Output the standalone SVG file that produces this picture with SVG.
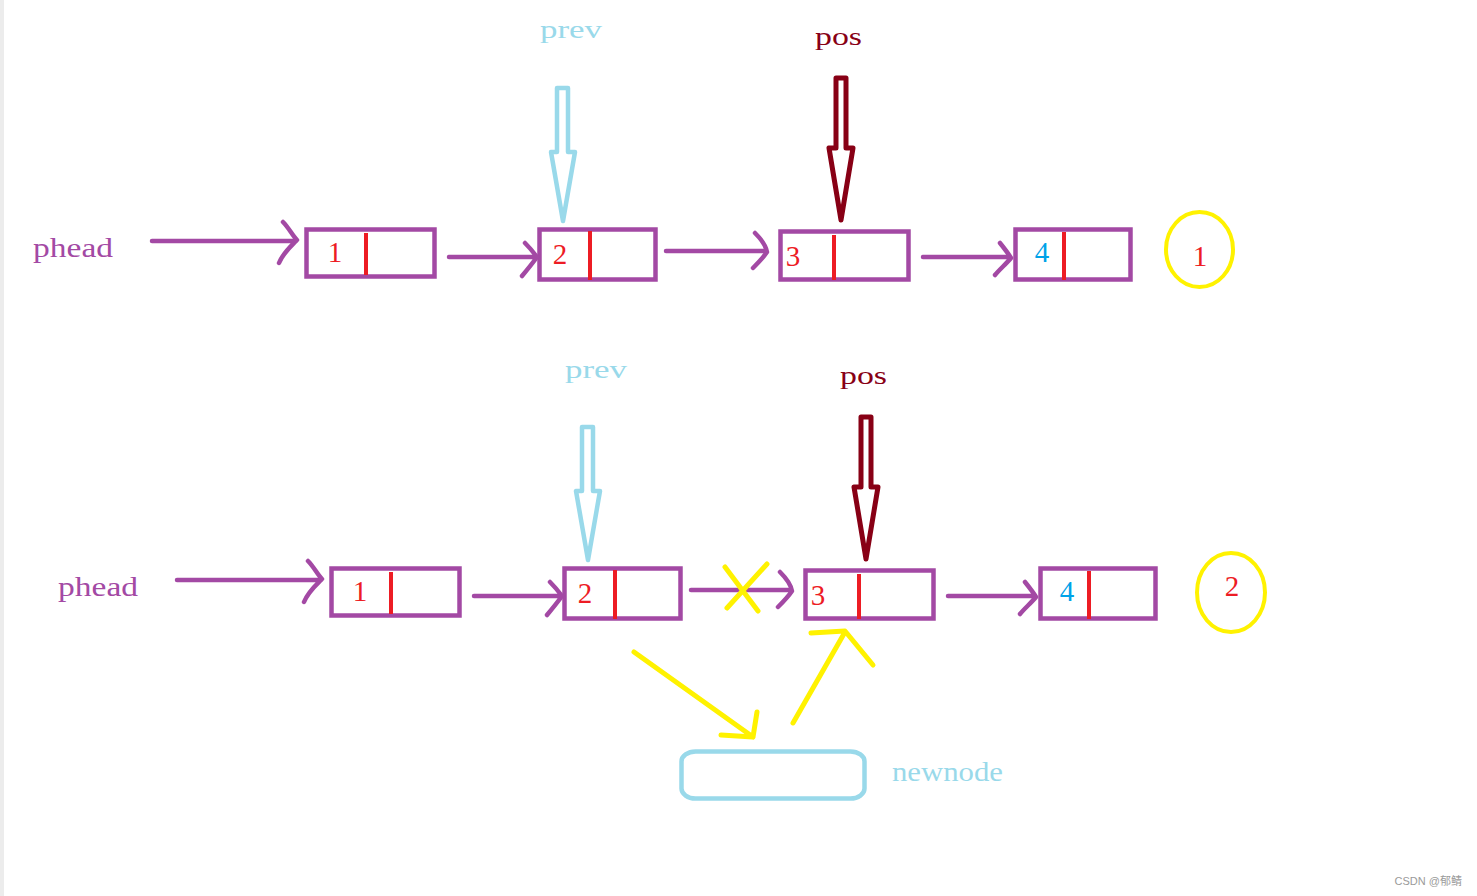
<svg xmlns="http://www.w3.org/2000/svg" width="1477" height="896" viewBox="0 0 1477 896">
<style>
.lbl{font-family:"Liberation Serif","DejaVu Serif",serif;}
.box{fill:none;stroke:#A349A4;stroke-width:4.5;}
.div{stroke:#ED1C24;stroke-width:4;}
.lnk{fill:none;stroke:#A349A4;stroke-width:4.5;stroke-linecap:round;stroke-linejoin:round;}
.num{font-family:"Liberation Serif","DejaVu Serif",serif;font-size:29px;fill:#ED1C24;text-anchor:middle;}
.yl{fill:none;stroke:#FFF200;stroke-width:5;stroke-linecap:round;stroke-linejoin:round;}
.circ{fill:none;stroke:#FFF200;stroke-width:4;}
</style>
<rect x="0" y="0" width="1477" height="896" fill="#ffffff"/>
<rect x="0" y="0" width="4" height="896" fill="#ececec"/>

<!-- Row 1 -->
<g id="row1">
  <g id="phead1"><text class="lbl" x="33" y="257" font-size="27" fill="#A349A4" textLength="80" lengthAdjust="spacingAndGlyphs">phead</text></g>
  <g id="prev1">
    <text class="lbl" x="540" y="38" font-size="25" fill="#99D9EA" textLength="62" lengthAdjust="spacingAndGlyphs">prev</text>
    <path d="M557,88 L568,88 L568,152 L575,152 L563,221 L551,152 L557,152 Z" fill="#fff" stroke="#99D9EA" stroke-width="4.5" stroke-linejoin="round"/>
  </g>
  <g id="pos1">
    <text class="lbl" x="815" y="45" font-size="25" fill="#880015" textLength="47" lengthAdjust="spacingAndGlyphs">pos</text>
    <path d="M836,78 L846,78 L846,148 L853,148 L841,220 L829,148 L836,148 Z" fill="#fff" stroke="#880015" stroke-width="5" stroke-linejoin="round"/>
  </g>
  <g id="node1a"><rect class="box" x="306.5" y="229.5" width="128" height="47"/><line class="div" x1="366" y1="233" x2="366" y2="275"/><text class="num" x="335" y="262">1</text></g>
  <g id="node2a"><rect class="box" x="539.5" y="229.5" width="116" height="50"/><line class="div" x1="590" y1="231" x2="590" y2="280"/><text class="num" x="560" y="264">2</text></g>
  <g id="node3a"><rect class="box" x="780.5" y="231.5" width="128" height="48"/><line class="div" x1="834" y1="235" x2="834" y2="280"/><text class="num" x="793" y="266">3</text></g>
  <g id="node4a"><rect class="box" x="1015.5" y="229.5" width="115" height="50"/><line class="div" x1="1064" y1="232" x2="1064" y2="280"/><text class="num" x="1042" y="262" style="fill:#00A2E8">4</text></g>
  <g id="mark1"><ellipse class="circ" cx="1199.5" cy="249.5" rx="33.5" ry="37.5"/><text class="num" x="1200" y="266">1</text></g>
  <g id="links1">
    <path class="lnk" d="M152,241 L296,241 M283,222 C289,228 292,235 297,240 C290,247 283,253 279,263"/>
    <path class="lnk" d="M449,257 L536,257 M525,243 C530,248 534,253 537,257 C532,264 527,270 522,276"/>
    <path class="lnk" d="M666,251 L766,251 M755,233 C762,240 766,246 767,252 C763,258 758,263 753,268"/>
    <path class="lnk" d="M923,257 L1010,257 M1000,243 C1004,248 1008,253 1011,258 C1006,264 1000,269 995,275"/>
  </g>
</g>

<!-- Row 2 -->
<g id="row2">
  <g id="phead2"><text class="lbl" x="58" y="596" font-size="27" fill="#A349A4" textLength="80" lengthAdjust="spacingAndGlyphs">phead</text></g>
  <g id="prev2">
    <text class="lbl" x="565" y="378" font-size="25" fill="#99D9EA" textLength="62" lengthAdjust="spacingAndGlyphs">prev</text>
    <path d="M582,427 L593,427 L593,491 L600,491 L588,560 L576,491 L582,491 Z" fill="#fff" stroke="#99D9EA" stroke-width="4.5" stroke-linejoin="round"/>
  </g>
  <g id="pos2">
    <text class="lbl" x="840" y="384" font-size="25" fill="#880015" textLength="47" lengthAdjust="spacingAndGlyphs">pos</text>
    <path d="M861,417 L871,417 L871,487 L878,487 L866,559 L854,487 L861,487 Z" fill="#fff" stroke="#880015" stroke-width="5" stroke-linejoin="round"/>
  </g>
  <g id="node1b"><rect class="box" x="331.5" y="568.5" width="128" height="47"/><line class="div" x1="391" y1="572" x2="391" y2="614"/><text class="num" x="360" y="601">1</text></g>
  <g id="node2b"><rect class="box" x="564.5" y="568.5" width="116" height="50"/><line class="div" x1="615" y1="570" x2="615" y2="619"/><text class="num" x="585" y="603">2</text></g>
  <g id="node3b"><rect class="box" x="805.5" y="570.5" width="128" height="48"/><line class="div" x1="859" y1="574" x2="859" y2="619"/><text class="num" x="818" y="605">3</text></g>
  <g id="node4b"><rect class="box" x="1040.5" y="568.5" width="115" height="50"/><line class="div" x1="1089" y1="571" x2="1089" y2="619"/><text class="num" x="1067" y="601" style="fill:#00A2E8">4</text></g>
  <g id="mark2"><ellipse class="circ" cx="1231" cy="592.5" rx="34" ry="39.5"/><text class="num" x="1232" y="596">2</text></g>
  <g id="newnode">
    <rect x="681.5" y="751.5" width="183" height="47" rx="14" ry="10" fill="none" stroke="#99D9EA" stroke-width="4.5"/>
    <text class="lbl" x="892" y="781" font-size="27" fill="#99D9EA" textLength="111" lengthAdjust="spacingAndGlyphs">newnode</text>
  </g>
  <g id="links2">
    <path class="lnk" d="M177,580 L321,580 M308,561 C314,567 317,574 322,579 C315,586 308,592 304,602"/>
    <path class="lnk" d="M474,596 L561,596 M550,582 C555,587 559,592 562,596 C557,603 552,609 547,615"/>
    <path class="lnk" d="M691,590 L791,590 M780,572 C787,579 791,585 792,591 C788,597 783,602 778,607"/>
    <path class="lnk" d="M948,596 L1035,596 M1025,582 C1029,587 1033,592 1036,597 C1031,603 1025,608 1020,614"/>
    <path class="yl" d="M725,567 L758,611 M767,564 L727,608"/>
    <path class="yl" d="M634,652 L753,737 M721,735 L753,737 L757,712"/>
    <path class="yl" d="M793,723 L845,632 M811,633 L845,631 L873,665"/>
  </g>
</g>
<text x="1462" y="885" text-anchor="end" font-family="'Liberation Sans','Noto Sans CJK SC',sans-serif" font-size="11" fill="#9a9a9a">CSDN @郁鲭</text>
</svg>
